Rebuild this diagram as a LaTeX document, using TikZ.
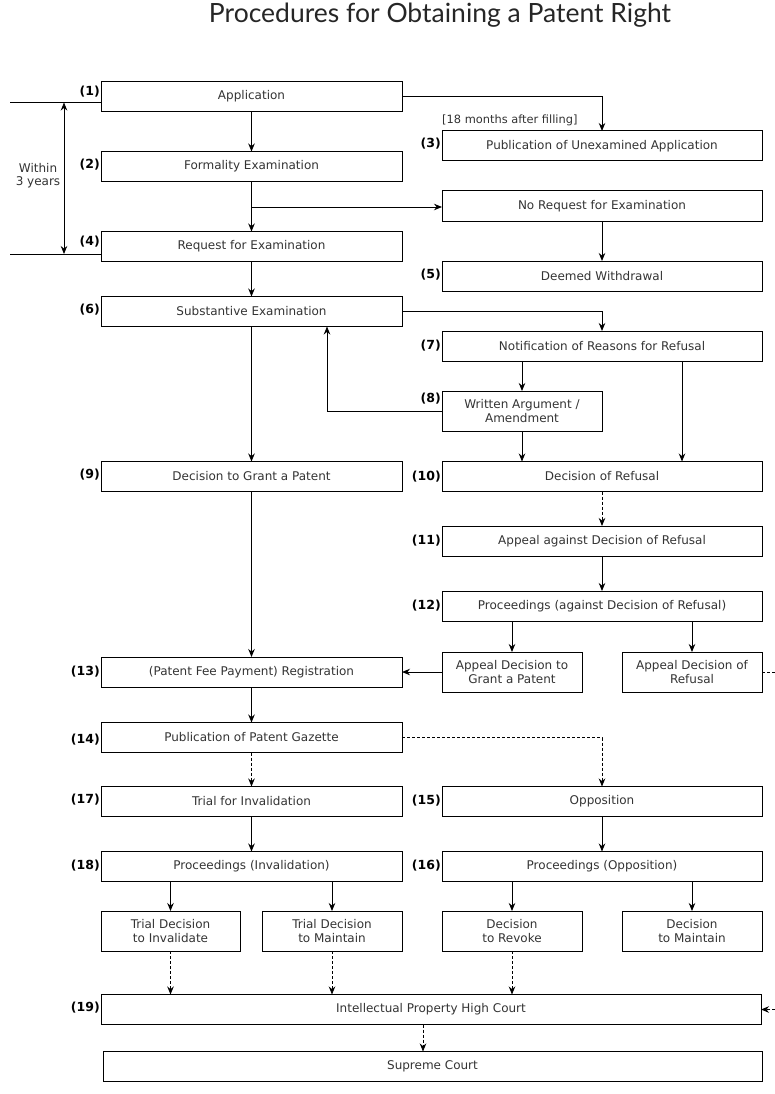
\documentclass[tikz,border=0pt]{standalone}
\usepackage{fontspec}
\setmainfont{DejaVu Sans}
\newfontfamily\titlefont{Lato}
\usetikzlibrary{arrows.meta}
\definecolor{txt}{HTML}{333333}
\begin{document}
\begin{tikzpicture}[x=1pt,y=-1pt,
  box/.style={draw=black,line width=1pt,minimum height=30pt,inner sep=1pt,outer sep=0pt,
     font=\fontsize{12}{14}\selectfont,text=txt,align=center},
  wide/.style={box,minimum width=301pt},
  rwide/.style={box,minimum width=320pt},
  small/.style={box,minimum width=140pt,minimum height=40pt},
  num/.style={anchor=east,font=\bfseries\fontsize{12.5}{14}\selectfont,inner sep=1pt},
  arr/.style={line width=0.9pt,-{Stealth[length=8pt,width=6.5pt]}},
  darr/.style={arr,dashed,dash pattern=on 3pt off 2pt},
  ln/.style={line width=0.9pt},
]
\useasboundingbox (0,0) rectangle (775,1094);
\node[font=\titlefont\fontsize{26.5}{30}\selectfont,text=black!85] (title) at (440,15) {Procedures for Obtaining a Patent Right};

% left column
\node[wide] (app) at (251.5,96.5) {Application};
\node[wide] (form) at (251.5,166.5) {Formality Examination};
\node[wide] (req) at (251.5,246.5) {Request for Examination};
\node[wide] (sub) at (251.5,311.5) {Substantive Examination};
\node[wide] (grant) at (251.5,476.5) {Decision to Grant a Patent};
\node[wide] (reg) at (251.5,672) {(Patent Fee Payment) Registration};
\node[wide] (gaz) at (251.5,737.5) {Publication of Patent Gazette};
\node[wide] (trial) at (251.5,801.5) {Trial for Invalidation};
\node[wide] (procI) at (251.5,866.5) {Proceedings (Invalidation)};
\node[small,minimum width=139pt] (tdI) at (170.5,931) {Trial Decision\\to Invalidate};
\node[small] (tdM) at (332,931) {Trial Decision\\to Maintain};
\node[box,minimum width=660pt] (iphc) at (431,1009.5) {Intellectual Property High Court};
\node[box,minimum width=659pt] (sc) at (432.5,1066.5) {Supreme Court};

% right column
\node[rwide] (pubU) at (602,146) {Publication of Unexamined Application};
\node[rwide] (noreq) at (602,206) {No Request for Examination};
\node[rwide] (deem) at (602,276) {Deemed Withdrawal};
\node[rwide] (notif) at (602,346) {Notification of Reasons for Refusal};
\node[box,minimum width=160pt,minimum height=40pt] (writ) at (522,411) {Written Argument /\\Amendment};
\node[rwide] (refu) at (602,476.5) {Decision of Refusal};
\node[rwide] (appeal) at (602,541) {Appeal against Decision of Refusal};
\node[rwide] (procA) at (602,606) {Proceedings (against Decision of Refusal)};
\node[small] (adG) at (512,672) {Appeal Decision to\\Grant a Patent};
\node[small] (adR) at (692,672) {Appeal Decision of\\Refusal};
\node[rwide] (opp) at (602,801.5) {Opposition};
\node[rwide] (procO) at (602,866.5) {Proceedings (Opposition)};
\node[small] (dRev) at (512,931) {Decision\\to Revoke};
\node[small] (dMnt) at (692,931) {Decision\\to Maintain};

% numbers
\node[num] (n1) at (app.north west) [yshift=-10pt] {(1)};
\node[num] (n2) at (form.north west) [yshift=-13pt] {(2)};
\node[num] (n4) at (req.north west) [yshift=-10pt] {(4)};
\node[num] (n6) at (sub.north west) [yshift=-13pt] {(6)};
\node[num] (n9) at (grant.north west) [yshift=-13pt] {(9)};
\node[num] (n13) at (reg.west) {(13)};
\node[num] (n14) at (gaz.north west) [yshift=-17pt] {(14)};
\node[num] (n17) at (trial.north west) [yshift=-13pt] {(17)};
\node[num] (n18) at (procI.north west) [yshift=-14pt] {(18)};
\node[num] (n19) at (iphc.north west) [yshift=-13pt] {(19)};
\node[num] (n3) at (pubU.north west) [yshift=-13pt] {(3)};
\node[num] (n5) at (deem.north west) [yshift=-14pt] {(5)};
\node[num] (n7) at (notif.north west) [yshift=-15pt] {(7)};
\node[num] (n8) at (writ.north west) [yshift=-8pt] {(8)};
\node[num] (n10) at (refu.north west) [yshift=-15pt] {(10)};
\node[num] (n11) at (appeal.north west) [yshift=-15pt] {(11)};
\node[num] (n12) at (procA.north west) [yshift=-15pt] {(12)};
\node[num] (n15) at (opp.north west) [yshift=-14pt] {(15)};
\node[num] (n16) at (procO.north west) [yshift=-14pt] {(16)};

% within 3 years bracket
\coordinate (b1) at (10,102.5);
\coordinate (b2) at (10,254);
\draw[ln] (b1) -- (app.west |- b1);
\draw[ln] (b2) -- (req.west |- b2);
\coordinate (w1) at (64,102.5);
\coordinate (w2) at (64,254);
\draw[line width=0.9pt,{Stealth[length=8pt,width=6.5pt]}-{Stealth[length=8pt,width=6.5pt]}] (w1) -- (w2);
\node[font=\fontsize{12}{13.5}\selectfont,text=txt,align=center] (within) at (38,175.5) {Within\\3 years};

% connectors
\draw[arr] (app.east) -| (pubU.north);
\node[anchor=west,font=\fontsize{11.4}{13}\selectfont,text=txt,inner sep=0pt] (lbl18) at (442,120.5) {[18 months after filling]};
\draw[arr] (app) -- (form);
\draw[arr] (form) -- (req);
\coordinate (j1) at (251.5,207);
\draw[arr] (j1) -- (noreq.west |- j1);
\draw[arr] (noreq) -- (deem);
\draw[arr] (req) -- (sub);
\draw[arr] (sub.east) -| (notif.north);
\draw[arr] (notif.south -| writ.north) -- (writ.north);
\draw[arr] (notif.south -| 682,0) -- (refu.north -| 682,0);
\draw[arr] (writ.west) -| (sub.south -| 327,0);
\draw[arr] (writ.south) -- (refu.north -| writ.south);
\draw[arr] (sub) -- (grant);
\draw[arr] (grant) -- (reg);
\draw[darr] (refu) -- (appeal);
\draw[arr] (appeal) -- (procA);
\draw[arr] (procA.south -| adG.north) -- (adG.north);
\draw[arr] (procA.south -| adR.north) -- (adR.north);
\draw[arr] (adG.west) -- (reg.east);
\coordinate (eR) at (775,672);
\draw[ln,dashed,dash pattern=on 3pt off 2pt] (adR.east) -- (eR);
\coordinate (eI) at (775,1009.5);
\draw[darr] (eI) -- (iphc.east);
\draw[arr] (reg) -- (gaz);
\draw[darr] (gaz) -- (trial);
\draw[darr] (gaz.east) -| (opp.north);
\draw[arr] (trial) -- (procI);
\draw[arr] (procI.south -| tdI.north) -- (tdI.north);
\draw[arr] (procI.south -| tdM.north) -- (tdM.north);
\draw[arr] (opp) -- (procO);
\draw[arr] (procO.south -| dRev.north) -- (dRev.north);
\draw[arr] (procO.south -| dMnt.north) -- (dMnt.north);
\draw[darr] (tdI.south) -- (iphc.north -| tdI.south);
\draw[darr] (tdM.south) -- (iphc.north -| tdM.south);
\draw[darr] (dRev.south) -- (iphc.north -| dRev.south);
\draw[darr] (iphc.south -| 423,0) -- (sc.north -| 423,0);
\end{tikzpicture}
\end{document}
